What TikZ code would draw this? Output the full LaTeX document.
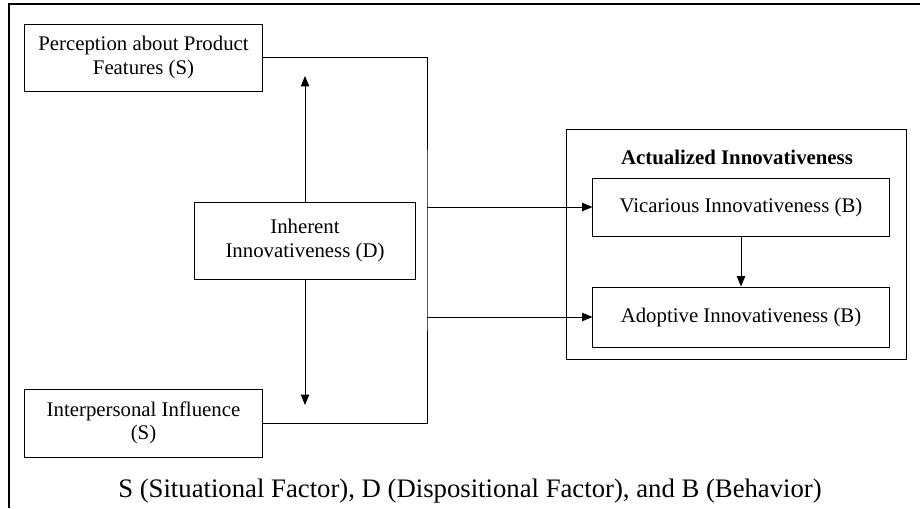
\documentclass[tikz,border=0pt]{standalone}
\usepackage{fontspec}
\setmainfont{Liberation Serif}
\usetikzlibrary{arrows.meta}

\begin{document}
\begin{tikzpicture}[x=0.025cm, y=-0.025cm,
	factor/.style={draw, black, line width=0.7pt, align=center, inner sep=2pt, font=\fontsize{14.8}{16.5}\selectfont},
	conn/.style={black, line width=0.7pt},
	arr/.style={conn, -{Triangle[length=2.6mm, width=2.1mm]}}]
\useasboundingbox (0,0) rectangle (920,508);
\draw[black, line width=1.5pt](9,508)--(9,4)--(920,4);
\node[factor, minimum width=5.925cm, minimum height=1.675cm](percep) at (143.5,57.5){Perception about Product\\Features (S)};
\node[factor, minimum width=5.925cm, minimum height=1.7cm](interp) at (143.5,423){Interpersonal Influence\\(S)};
\node[factor, minimum width=5.5cm, minimum height=1.925cm](inherent) at (305,240.5){Inherent\\Innovativeness (D)};
\node[factor, minimum width=8.475cm, minimum height=5.725cm](actual) at (736.5,244.5){};
\node[font=\fontsize{14.8}{16.5}\selectfont\bfseries](title) at (737,157){Actualized Innovativeness};
\node[factor, minimum width=7.4cm, minimum height=1.45cm](vicar) at (741,207){Vicarious Innovativeness (B)};
\node[factor, minimum width=7.4cm, minimum height=1.5cm](adopt) at (741,317){Adoptive Innovativeness (B)};
\node[font=\fontsize{19}{22}\selectfont](caption) at (470,491){S (Situational Factor), D (Dispositional Factor), and B (Behavior)};
\coordinate(bus) at (427,240);
\coordinate(uptip) at (305,76);
\coordinate(downtip) at (305,405);
\draw[conn](percep.east) -| (bus) |- (interp.east);
\draw[arr](inherent.north)--(uptip);
\draw[arr](inherent.south)--(downtip);
\draw[arr](vicar.west -| bus)--(vicar.west);
\draw[arr](adopt.west -| bus)--(adopt.west);
\draw[arr](vicar.south)--(adopt.north);
\end{tikzpicture}
\end{document}
